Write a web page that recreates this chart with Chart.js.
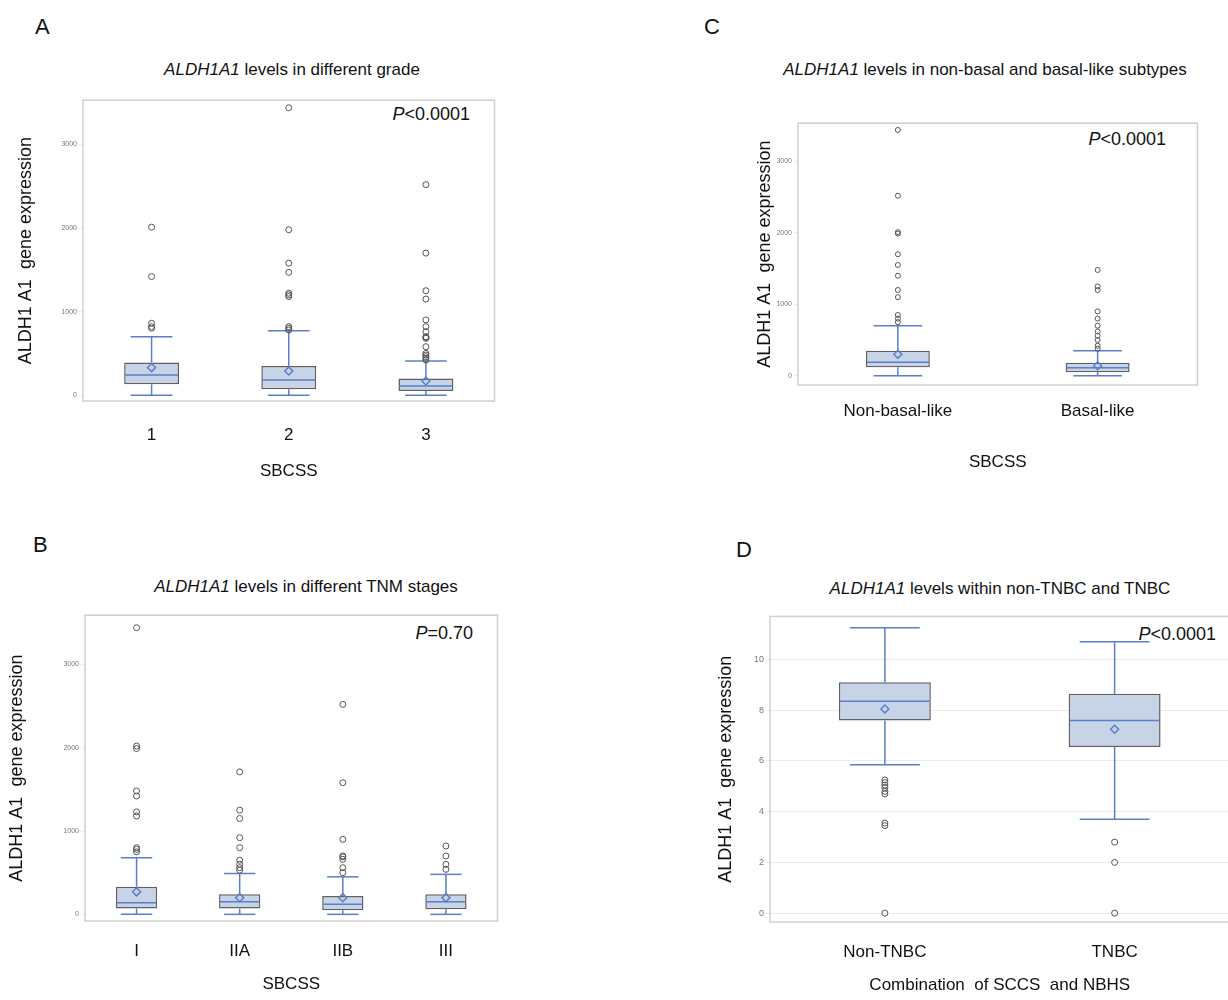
<!DOCTYPE html>
<html>
<head>
<meta charset="utf-8">
<script src="https://cdn.jsdelivr.net/npm/chart.js@4.4.1/dist/chart.umd.min.js"></script>
<style>
  body { margin: 0; background: #fff; font-family: "Liberation Sans", Arial, sans-serif; }
  #page { position: relative; width: 1228px; height: 1000px; overflow: hidden; }
  .lbl { position: absolute; font-size: 22px; color: #111; }
  .ttl { position: absolute; font-size: 17px; color: #111; white-space: nowrap; transform: translateX(-50%); }
  .pv { position: absolute; font-size: 18px; color: #111; white-space: nowrap; transform: translateX(-100%); }
  canvas { position: absolute; }
</style>
</head>
<body>
<div id="page">
  <div class="lbl" style="left:35px;top:14px">A</div>
  <div class="lbl" style="left:33px;top:532px">B</div>
  <div class="lbl" style="left:704px;top:14px">C</div>
  <div class="lbl" style="left:736px;top:537px">D</div>
  <div class="ttl" style="left:292px;top:60px"><i>ALDH1A1</i> levels in different grade</div>
  <div class="ttl" style="left:306px;top:577px"><i>ALDH1A1</i> levels in different TNM stages</div>
  <div class="ttl" style="left:985px;top:60px"><i>ALDH1A1</i> levels in non-basal and basal-like subtypes</div>
  <div class="ttl" style="left:1000px;top:579px"><i>ALDH1A1</i> levels within non-TNBC and TNBC</div>
  <div class="pv" style="left:470px;top:104px"><i>P</i>&lt;0.0001</div>
  <div class="pv" style="left:473px;top:623px"><i>P</i>=0.70</div>
  <div class="pv" style="left:1166px;top:129px"><i>P</i>&lt;0.0001</div>
  <div class="pv" style="left:1216px;top:624px"><i>P</i>&lt;0.0001</div>
  <canvas id="cA"></canvas>
  <canvas id="cB"></canvas>
  <canvas id="cC"></canvas>
  <canvas id="cD"></canvas>
</div>
<script>
// Panel A - grade
const catsA = ['1', '2', '3'];
const q1A = [130, 70, 50];
const medA = [240, 180, 110];
const q3A = [390, 350, 200];
const loA = [0, 0, 0];
const hiA = [700, 770, 410];
const meanA = [330, 290, 170];
const outA = [
    [800, 820, 860, 1420, 2010],
    [780, 800, 820, 1180, 1200, 1220, 1470, 1580, 1980, 3440],
    [420, 440, 460, 480, 500, 580, 680, 690, 700, 760, 820, 900, 1150, 1250, 1700, 2520]
];
const ticksA = [0, 1000, 2000, 3000];

// Panel B - TNM stage
const catsB = ['I', 'IIA', 'IIB', 'III'];
const q1B = [70, 70, 50, 60];
const medB = [140, 150, 120, 150];
const q3B = [330, 240, 220, 240];
const loB = [0, 0, 0, 0];
const hiB = [680, 490, 450, 480];
const meanB = [270, 200, 200, 200];
const outB = [
    [750, 780, 800, 1180, 1230, 1420, 1480, 1990, 2020, 3440],
    [530, 560, 600, 650, 800, 920, 1150, 1250, 1710],
    [500, 560, 660, 690, 700, 900, 1580, 2520],
    [540, 600, 700, 820]
];
const ticksB = [0, 1000, 2000, 3000];

// Panel C - subtypes
const catsC = ['Non-basal-like', 'Basal-like'];
const q1C = [120, 50];
const medC = [190, 110];
const q3C = [350, 180];
const loC = [0, 0];
const hiC = [700, 350];
const meanC = [300, 140];
const outC = [
    [750, 800, 850, 1100, 1200, 1400, 1550, 1700, 1990, 2010, 2520, 3440],
    [380, 420, 500, 560, 620, 700, 800, 900, 1200, 1250, 1480]
];
const ticksC = [0, 1000, 2000, 3000];

// Panel D - TNBC
const catsD = ['Non-TNBC', 'TNBC'];
const q1D = [7.6, 6.55];
const medD = [8.35, 7.6];
const q3D = [9.1, 8.65];
const loD = [5.85, 3.7];
const hiD = [11.25, 10.7];
const meanD = [8.05, 7.25];
const outD = [
    [5.25, 5.15, 5.05, 4.95, 4.8, 4.7, 3.55, 3.45, 0],
    [2.8, 2.0, 0]
];
const ticksD = [0, 2, 4, 6, 8, 10];

const BLUE = '#5b7ec8';

const boxPlugin = {
    id: 'boxParts',
    beforeDatasetsDraw(chart) {
        const ctx = chart.ctx, a = chart.chartArea, p = chart.options.plugins.boxParts;
        // frame
        ctx.save();
        ctx.strokeStyle = '#cfcfcf';
        ctx.lineWidth = 1.5;
        ctx.strokeRect(a.left, a.top, a.right - a.left, a.bottom - a.top);
        // whiskers
        const meta = chart.getDatasetMeta(0);
        const y = chart.scales.y;
        ctx.strokeStyle = BLUE;
        ctx.lineWidth = 1.5;
        meta.data.forEach((bar, i) => {
            const cap = bar.width * 0.38;
            const seg = (v1, v2) => {
                ctx.beginPath();
                ctx.moveTo(bar.x, y.getPixelForValue(v1));
                ctx.lineTo(bar.x, y.getPixelForValue(v2));
                ctx.stroke();
                ctx.beginPath();
                ctx.moveTo(bar.x - cap, y.getPixelForValue(v2));
                ctx.lineTo(bar.x + cap, y.getPixelForValue(v2));
                ctx.stroke();
            };
            seg(p.q3[i], p.hi[i]);
            seg(p.q1[i], p.lo[i]);
        });
        ctx.restore();
    },
    afterDatasetDraw(chart, args) {
        if (args.index !== 0) return;
        const ctx = chart.ctx, p = chart.options.plugins.boxParts;
        const y = chart.scales.y;
        ctx.save();
        ctx.strokeStyle = BLUE;
        ctx.lineWidth = 1.5;
        args.meta.data.forEach((bar, i) => {
            const py = y.getPixelForValue(p.med[i]);
            ctx.beginPath();
            ctx.moveTo(bar.x - bar.width / 2 + 1, py);
            ctx.lineTo(bar.x + bar.width / 2 - 1, py);
            ctx.stroke();
        });
        ctx.restore();
    }
};

function makePanel(id, pos, d) {
    const cv = document.getElementById(id);
    cv.width = pos.w; cv.height = pos.h;
    cv.style.left = pos.left + 'px';
    cv.style.top = pos.top + 'px';
    const outPts = [];
    d.out.forEach((arr, i) => arr.forEach(v => outPts.push({ x: d.cats[i], y: v })));
    new Chart(cv.getContext('2d'), {
        type: 'bar',
        data: {
            labels: d.cats,
            datasets: [
                {
                    type: 'bar',
                    data: d.cats.map((c, i) => [d.q1[i], d.q3[i]]),
                    backgroundColor: 'rgba(196,210,230,0.95)',
                    borderColor: '#606060',
                    borderWidth: 1.5,
                    borderSkipped: false,
                    barPercentage: d.barPct,
                    categoryPercentage: 1,
                    order: 3
                },
                {
                    type: 'scatter',
                    data: outPts,
                    pointStyle: 'circle',
                    pointRadius: d.outR,
                    backgroundColor: 'rgba(255,255,255,0)',
                    borderColor: '#555',
                    borderWidth: 1,
                    order: 2
                },
                {
                    type: 'scatter',
                    data: d.cats.map((c, i) => ({ x: c, y: d.mean[i] })),
                    pointStyle: 'rectRot',
                    pointRadius: 4,
                    backgroundColor: 'rgba(255,255,255,0)',
                    borderColor: BLUE,
                    borderWidth: 1.5,
                    order: 1
                }
            ]
        },
        options: {
            responsive: false,
            animation: false,
            layout: { padding: { top: 1, right: pos.padR } },
            plugins: {
                legend: { display: false },
                tooltip: { enabled: false },
                boxParts: { q1: d.q1, q3: d.q3, med: d.med, lo: d.lo, hi: d.hi }
            },
            scales: {
                x: {
                    type: 'category',
                    offset: true,
                    grid: { display: false },
                    border: { display: false },
                    ticks: { color: '#111', font: { family: 'Liberation Sans', size: 17 }, padding: pos.xPad },
                    title: { display: true, text: d.xTitle, color: '#111', font: { family: 'Liberation Sans', size: 17 }, padding: { top: 4, bottom: 4 } },
                    afterFit: s => { s.height = pos.xH; }
                },
                y: {
                    min: d.min, max: d.max,
                    grid: {
                        display: true,
                        drawOnChartArea: d.gridOn,
                        color: '#ececec',
                        tickLength: 4
                    },
                    border: { display: false },
                    afterBuildTicks: s => { s.ticks = d.ticks.map(v => ({ value: v })); },
                    ticks: { color: '#777', font: { family: 'Liberation Sans', size: d.tickSize }, padding: 2,
                             callback: v => String(v) },
                    title: { display: true, text: 'ALDH1 A1  gene expression', color: '#111', font: { family: 'Liberation Sans', size: 18 }, padding: 0 },
                    afterFit: s => { s.width = pos.yW; }
                }
            }
        },
        plugins: [boxPlugin]
    });
}

makePanel('cA', { left: 15, top: 94, w: 485, h: 392, yW: 68, xH: 85, xPad: 16, padR: 3 },
    { cats: catsA, q1: q1A, med: medA, q3: q3A, lo: loA, hi: hiA, mean: meanA, out: outA, ticks: ticksA,
      min: -70, max: 3530, xTitle: 'SBCSS', barPct: 0.4, outR: 3, tickSize: 7, gridOn: false });
makePanel('cB', { left: 6, top: 609, w: 497, h: 390, yW: 79, xH: 78, xPad: 12, padR: 3 },
    { cats: catsB, q1: q1B, med: medB, q3: q3B, lo: loB, hi: hiB, mean: meanB, out: outB, ticks: ticksB,
      min: -80, max: 3590, xTitle: 'SBCSS', barPct: 0.4, outR: 3, tickSize: 7, gridOn: false });
makePanel('cC', { left: 754, top: 117, w: 449, h: 360, yW: 44, xH: 92, xPad: 8, padR: 3 },
    { cats: catsC, q1: q1C, med: medC, q3: q3C, lo: loC, hi: hiC, mean: meanC, out: outC, ticks: ticksC,
      min: -130, max: 3535, xTitle: 'SBCSS', barPct: 0.32, outR: 2.5, tickSize: 7, gridOn: false });
makePanel('cD', { left: 715, top: 609, w: 520, h: 391, yW: 55, xH: 78, xPad: 12, padR: 0 },
    { cats: catsD, q1: q1D, med: medD, q3: q3D, lo: loD, hi: hiD, mean: meanD, out: outD, ticks: ticksD,
      min: -0.35, max: 11.7, xTitle: 'Combination  of SCCS  and NBHS', barPct: 0.4, outR: 3, tickSize: 9, gridOn: true });
</script>
</body>
</html>
